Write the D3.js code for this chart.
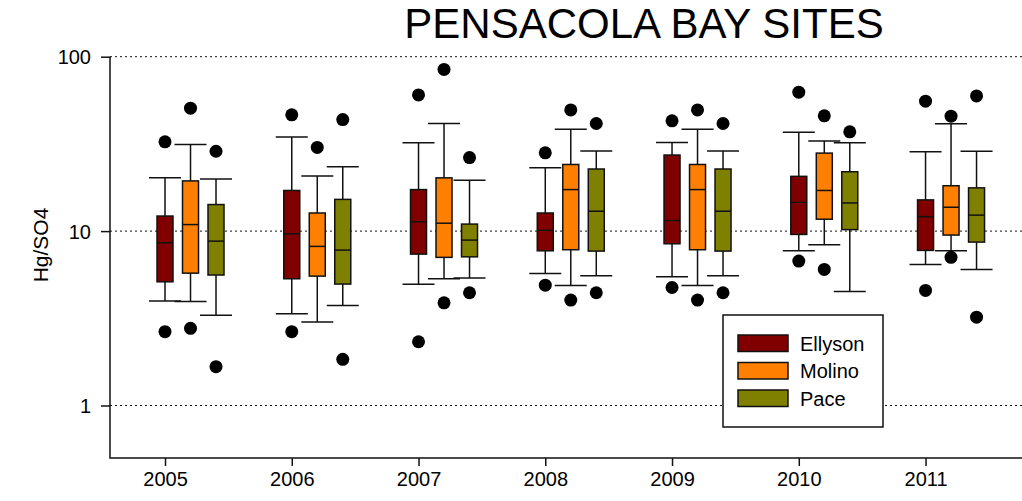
<!DOCTYPE html>
<html>
<head>
<meta charset="utf-8">
<script src="https://cdn.jsdelivr.net/npm/d3@7"></script>
<style>
  html, body { margin: 0; padding: 0; background: #fff; }
  svg { display: block; font-family: "Liberation Sans", Arial, sans-serif; }
</style>
</head>
<body>
<svg id="chart" width="1022" height="501"></svg>
<script>
// ---- Data ----
const years = [2005, 2006, 2007, 2008, 2009, 2010, 2011];
const seriesNames = ["Ellyson", "Molino", "Pace"];
const seriesColors = ["#800000", "#FF8000", "#808000"];
const yTicks = [1, 10, 100];
const chartTitle = "PENSACOLA BAY SITES";
const yLabel = "Hg/SO4";

// per year: [lower whisker, Q1, median, Q3, upper whisker]
const ellysonStats = [
  [3.97, 5.12, 8.57, 12.2, 20.2],
  [3.36, 5.33, 9.65, 17.1, 34.6],
  [4.95, 7.38, 11.3, 17.3, 32.1],
  [5.72, 7.71, 10.1, 12.7, 23.1],
  [5.47, 8.46, 11.5, 27.3, 32.2],
  [7.71, 9.57, 14.6, 20.6, 36.9],
  [6.44, 7.75, 12.1, 15.1, 28.5]
];
const molinoStats = [
  [3.95, 5.74, 10.9, 19.4, 31.4],
  [3.01, 5.52, 8.17, 12.7, 20.7],
  [5.33, 7.07, 11.1, 20.2, 41.4],
  [4.88, 7.82, 17.3, 24.1, 38.4],
  [4.88, 7.82, 17.3, 24.1, 38.4],
  [8.35, 11.7, 17.1, 28.0, 32.9],
  [7.71, 9.49, 13.7, 18.2, 41.2]
];
const paceStats = [
  [3.29, 5.6, 8.76, 14.2, 19.9],
  [3.75, 4.97, 7.78, 15.2, 23.4],
  [5.38, 7.12, 8.88, 10.97, 19.6],
  [5.55, 7.68, 13.0, 22.7, 28.8],
  [5.55, 7.68, 13.0, 22.7, 28.8],
  [4.51, 10.2, 14.5, 21.9, 32.1],
  [6.03, 8.65, 12.35, 17.7, 28.7]
];
// per year: outlier values
const ellysonOutliers = [[2.65, 32.5], [2.65, 46.4], [2.32, 60.4], [4.9, 28.1], [4.75, 42.9], [6.73, 62.6], [4.57, 55.6]];
const molinoOutliers  = [[2.77, 50.7], [30.2], [3.88, 84.5], [4.02, 49.5], [4.02, 49.5], [6.03, 45.8], [7.07, 45.6]];
const paceOutliers    = [[1.67, 28.7], [1.84, 43.6], [4.43, 26.4], [4.43, 41.4], [4.43, 41.4], [37.1], [3.21, 59.6]];

const allStats = [ellysonStats, molinoStats, paceStats];
const allOutliers = [ellysonOutliers, molinoOutliers, paceOutliers];

// ---- Layout ----
const svg = d3.select("#chart");
const mLeft = 110, mRight = 1022, mTop = 56.7, mBottom = 458;
const ink = "#111";

const x = d3.scaleLinear().domain([2004.566, 2011.761]).range([mLeft, mRight]);
const y = d3.scaleLog().domain([0.5, 100]).range([mBottom, mTop]);
const offset = d3.scalePoint().domain(seriesNames).range([0, 51]);
const boxW = 16, capW = 32;

// gridlines
svg.append("g").selectAll("line").data(yTicks).join("line")
  .attr("x1", mLeft).attr("x2", mRight)
  .attr("y1", d => y(d)).attr("y2", d => y(d))
  .attr("stroke", ink).attr("stroke-width", 1).attr("stroke-dasharray", "2,3");

// axes
const yAxis = svg.append("g").attr("transform", `translate(${mLeft},0)`)
  .call(d3.axisLeft(y).tickValues(yTicks).tickFormat(d3.format("d")).tickSizeOuter(0).tickSize(9).tickPadding(10));
const xAxis = svg.append("g").attr("transform", `translate(0,${mBottom})`)
  .call(d3.axisBottom(x).tickValues(years).tickFormat(d3.format("d")).tickSizeOuter(0).tickSize(8).tickPadding(6));
[yAxis, xAxis].forEach(a => {
  a.select(".domain").remove();
  a.selectAll(".tick line").attr("stroke", ink).attr("stroke-width", 1.5);
  a.selectAll(".tick text").attr("fill", "#000").attr("font-size", 20)
    .attr("font-family", "Liberation Sans, Arial, sans-serif");
});
yAxis.selectAll(".tick text").attr("dy", "0.36em");
// axis lines
svg.append("path")
  .attr("d", `M${mLeft},${y(100)}V${mBottom}H${mRight}`)
  .attr("fill", "none").attr("stroke", ink).attr("stroke-width", 1.5);

// boxes
seriesNames.forEach((name, si) => {
  const g = svg.append("g");
  const stats = allStats[si];
  const cx = (i) => x(years[i]) + offset(name);
  const items = stats.map((s, i) => ({ s, i }));
  g.selectAll("line.wlo").data(items).join("line").attr("class", "wlo")
    .attr("x1", d => cx(d.i)).attr("x2", d => cx(d.i))
    .attr("y1", d => y(d.s[0])).attr("y2", d => y(d.s[1]))
    .attr("stroke", ink).attr("stroke-width", 1.5);
  g.selectAll("line.whi").data(items).join("line").attr("class", "whi")
    .attr("x1", d => cx(d.i)).attr("x2", d => cx(d.i))
    .attr("y1", d => y(d.s[3])).attr("y2", d => y(d.s[4]))
    .attr("stroke", ink).attr("stroke-width", 1.5);
  [0, 4].forEach(k => {
    g.selectAll("line.cap" + k).data(items).join("line").attr("class", "cap" + k)
      .attr("x1", d => cx(d.i) - capW / 2).attr("x2", d => cx(d.i) + capW / 2)
      .attr("y1", d => y(d.s[k])).attr("y2", d => y(d.s[k]))
      .attr("stroke", ink).attr("stroke-width", 1.5);
  });
  g.selectAll("rect.box").data(items).join("rect").attr("class", "box")
    .attr("x", d => cx(d.i) - boxW / 2).attr("width", boxW)
    .attr("y", d => y(d.s[3])).attr("height", d => y(d.s[1]) - y(d.s[3]))
    .attr("fill", seriesColors[si]).attr("stroke", ink).attr("stroke-width", 1.5);
  g.selectAll("line.med").data(items).join("line").attr("class", "med")
    .attr("x1", d => cx(d.i) - boxW / 2).attr("x2", d => cx(d.i) + boxW / 2)
    .attr("y1", d => y(d.s[2])).attr("y2", d => y(d.s[2]))
    .attr("stroke", ink).attr("stroke-width", 1.5);
  const pts = [];
  allOutliers[si].forEach((arr, i) => arr.forEach(v => pts.push({ i, v })));
  g.selectAll("circle").data(pts).join("circle")
    .attr("cx", d => cx(d.i)).attr("cy", d => y(d.v)).attr("r", 6.5)
    .attr("fill", "#000");
});

// legend
const lg = svg.append("g").attr("transform", "translate(723,315)");
lg.append("rect").attr("x", 0).attr("y", 0).attr("width", 160).attr("height", 112)
  .attr("fill", "#fff").attr("stroke", ink).attr("stroke-width", 1.5);
seriesNames.forEach((name, i) => {
  lg.append("rect").attr("x", 15).attr("y", 20 + i * 27.5).attr("width", 50).attr("height", 16.5)
    .attr("fill", seriesColors[i]).attr("stroke", ink).attr("stroke-width", 1.5);
  lg.append("text").attr("x", 77).attr("y", 28.5 + i * 27.5).attr("dy", "0.36em")
    .attr("font-size", 20).attr("fill", "#000").text(name);
});

// title
svg.append("text").attr("x", 644).attr("y", 38).attr("text-anchor", "middle")
  .attr("font-size", 42).attr("fill", "#000").text(chartTitle);

// y label
svg.append("text").attr("transform", "translate(48,245) rotate(-90)")
  .attr("text-anchor", "middle").attr("font-size", 21).attr("fill", "#000").text(yLabel);
</script>
</body>
</html>
